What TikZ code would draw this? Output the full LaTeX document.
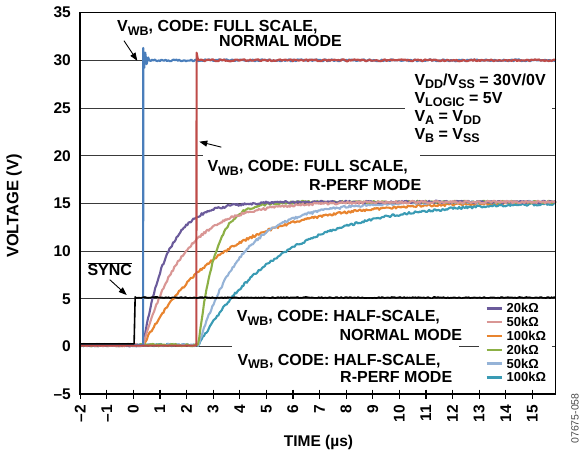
\documentclass[tikz,border=0pt]{standalone}
\usepackage{fontspec}
\setmainfont{Liberation Sans}
\usetikzlibrary{arrows.meta}

\definecolor{fsblue}{HTML}{4A7EBB}
\definecolor{fsred}{HTML}{BE4B48}
\definecolor{nrmA}{HTML}{6B5B9B}
\definecolor{nrmB}{HTML}{D99694}
\definecolor{nrmC}{HTML}{E8842F}
\definecolor{rpfA}{HTML}{8CB045}
\definecolor{rpfB}{HTML}{95B3D7}
\definecolor{rpfC}{HTML}{3A9BB4}
\definecolor{gridgray}{HTML}{3A3A3A}

\tikzset{
  gridln/.style={gridgray, line width=0.9pt},
  trace/.style={line width=2.1pt, line join=round},
  annot/.style={inner sep=0pt, anchor=base west, font=\fontsize{16}{18}\selectfont\bfseries},
  ticklbl/.style={inner sep=0pt, font=\fontsize{15.5}{18}\selectfont\bfseries},
  legtxt/.style={inner sep=0pt, anchor=west, font=\fontsize{13}{15}\selectfont\bfseries},
  pointer/.style={line width=0.9pt, -{Triangle[length=8pt,width=6pt]}},
}

\newcommand{\sbs}[1]{\raisebox{-3.3pt}{\fontsize{12.5}{13}\selectfont #1}}

\begin{document}
\begin{tikzpicture}[x=1pt,y=1pt,yscale=-1,
  declare function={px(\t)=133.3+26.6*\t; py(\v)=346.5-9.54*\v;
    rise(\t,\s,\k)=15*(1-exp(-max(\t-\s,0)/\k));}]
\useasboundingbox (0,0) rectangle (580,453);
\pgfmathsetseed{7}

% grid lines, with gaps behind the labels
\foreach \v in {5,10,15,30}
  \draw[gridln] ({px(-2)},{py(\v)}) -- ({px(15.88)},{py(\v)});
\draw[gridln] ({px(-2)},{py(25)}) -- (405,{py(25)});
\draw[gridln] ({px(-2)},{py(20)}) -- (203,{py(20)}) (420,{py(20)}) -- ({px(15.88)},{py(20)});
\draw[gridln] ({px(-2)},{py(0)}) -- (231.7,{py(0)}) (459,{py(0)}) -- (479,{py(0)});
\foreach \v in {0,5,...,30}
  \draw[gridln] ({px(15.88)-3.5},{py(\v)}) -- ({px(15.88)},{py(\v)});

% half-scale traces
\foreach \clr/\st/\tc in {nrmC/0.37/2.9, rpfC/2.45/3.1, rpfB/2.45/1.65, rpfA/2.45/0.62, nrmA/0.37/0.9, nrmB/0.37/1.5}
  \draw[trace,\clr] plot[domain=-2:15.88,samples=400] ({px(\x)},{py(0.15+rise(\x,\st,\tc)+0.13*rand)});

% full-scale traces
\draw[trace,fsblue] ({px(-2)},{py(0.15)}) -- ({px(0.37)},{py(0.15)}) -- ({px(0.375)},{py(31.3)}) -- ({px(0.41)},{py(29.2)}) -- ({px(0.45)},{py(30.8)}) -- ({px(0.5)},{py(29.6)}) -- ({px(0.56)},{py(30.3)}) -- plot[domain=0.6:15.88,samples=300] ({px(\x)},{py(30+0.1*rand)});
\draw[trace,fsred] ({px(-2)},{py(0.1)}) -- ({px(2.37)},{py(0.1)}) -- ({px(2.38)},{py(30.8)}) -- ({px(2.43)},{py(30.1)}) -- plot[domain=2.48:15.88,samples=260] ({px(\x)},{py(30+0.1*rand)});

% SYNC
\draw[trace,black,line width=1.6pt] ({px(-2)},{py(0.28)}) -- ({px(0.03)},{py(0.28)}) -- ({px(0.07)},{py(5.2)}) -- plot[domain=0.12:15.88,samples=300] ({px(\x)},{py(5.13+0.06*rand)});

% frame and ticks
\draw[line width=1.5pt] ({px(-2)},{py(35)}) rectangle ({px(15.88)},{py(-5)});
\foreach \t in {-2,...,15}
  \draw[line width=1.2pt] ({px(\t)},{py(-5)-4.5}) -- ({px(\t)},{py(-5)+4.5});

% tick labels
\foreach \v/\s in {-5/{–5},0/0,5/5,10/10,15/15,20/20,25/25,30/30,35/35}
  \node[ticklbl,anchor=east] (ytk\v) at (71,{py(\v)}) {\s};
\foreach \t in {-2,...,15}
  \node[ticklbl,rotate=90,anchor=east] (xtk\t) at ({px(\t)},405) {\ifnum\t<0 –\the\numexpr-\t\relax\else\t\fi};

\node[ticklbl,rotate=90,anchor=base,font=\fontsize{16.5}{18}\selectfont\bfseries] (ylab) at (18.3,206) {VOLTAGE (V)};
\node[ticklbl,anchor=base] (xlab) at (318.5,446.7) {TIME (µs)};

% labels
\node[annot] (fsn1) at (117,31.7) {V\sbs{WB}, CODE: FULL SCALE,};
\node[annot] (fsn2) at (219,46.3) {NORMAL MODE};
\node[annot] (fsr1) at (207.3,171.7) {V\sbs{WB}, CODE: FULL SCALE,};
\node[annot] (fsr2) at (309,190) {R-PERF MODE};
\node[annot] (hsn1) at (236.7,321.7) {V\sbs{WB}, CODE: HALF-SCALE,};
\node[annot] (hsn2) at (339.3,340.7) {NORMAL MODE};
\node[annot] (hsr1) at (237.3,365) {V\sbs{WB}, CODE: HALF-SCALE,};
\node[annot] (hsr2) at (340,382.7) {R-PERF MODE};
\node[annot] (cnd1) at (414.3,85.3) {V\sbs{DD}/V\sbs{SS} = 30V/0V};
\node[annot] (cnd2) at (414.3,103.3) {V\sbs{LOGIC} = 5V};
\node[annot] (cnd3) at (414.3,121.3) {V\sbs{A} = V\sbs{DD}};
\node[annot] (cnd4) at (414.3,139.6) {V\sbs{B} = V\sbs{SS}};
\node[annot] (sync) at (87.3,275.7) {\(\overline{\mbox{SYNC}}\)};

% pointers
\coordinate (tipN) at ({px(0.15)},{py(29.95)});
\coordinate (tipR) at ({px(2.48)},{py(21.47)});
\coordinate (tipS) at ({px(-0.25)},{py(5.4)});
\draw[pointer] (fsn1.south west) ++(7,5.5) -- (tipN);
\draw[pointer] (fsr1.north west) ++(14,-13.2) -- (tipR);
\draw[pointer] (sync.south) ++(0,3.6) -- (tipS);

% legend
\foreach \clr/\txt [count=\i from 0] in {nrmA/20kΩ, nrmB/50kΩ, nrmC/100kΩ, rpfA/20kΩ, rpfB/50kΩ, rpfC/100kΩ} {
  \coordinate (lg\i) at (486.7,308.3+13.8*\i);
  \draw[\clr,line width=2.4pt] (lg\i) -- ++(15,0);
  \node[legtxt] (lt\i) at (506.5,308.3+13.8*\i) {\txt};
}

\node[rotate=90,inner sep=0pt,text=black!70,font=\fontsize{10.5}{12}\selectfont] (figid) at (575,418.5) {07675-058};

\end{tikzpicture}
\end{document}
